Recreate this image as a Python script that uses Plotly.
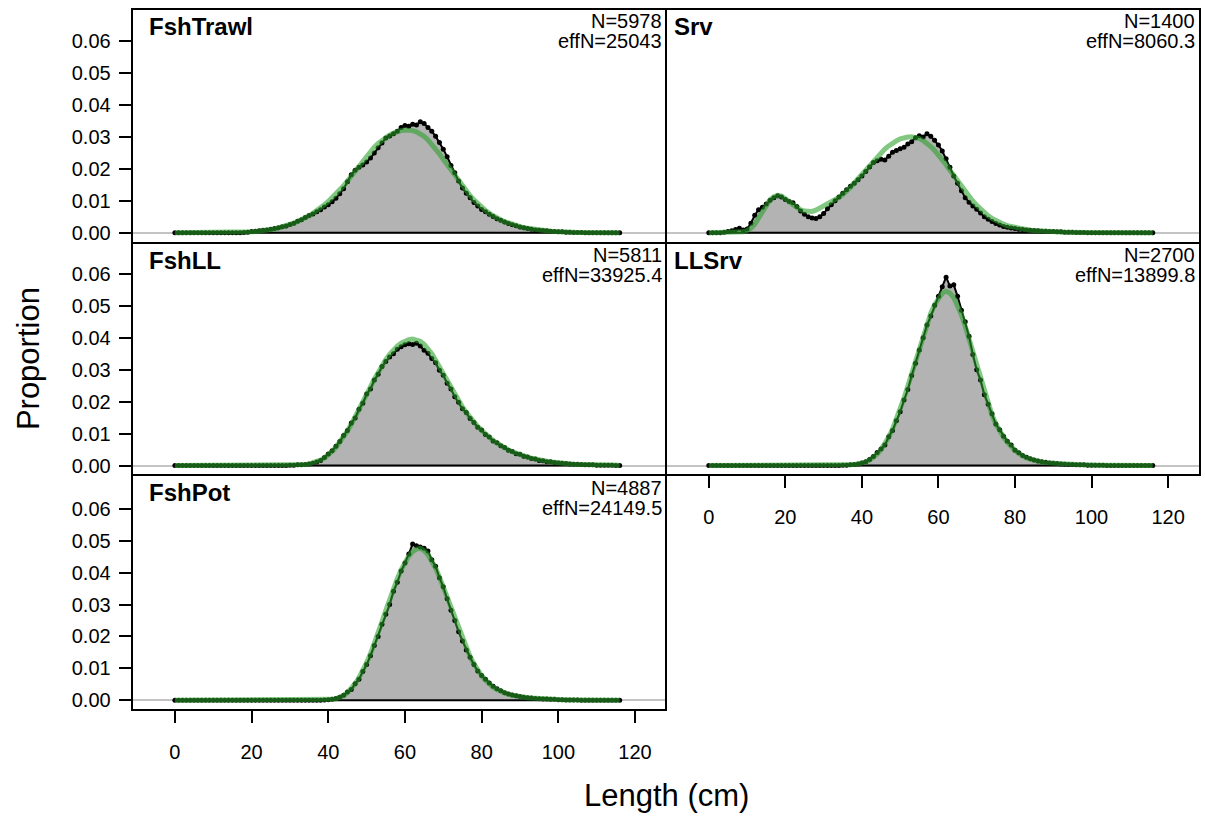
import plotly.graph_objects as go

lengths = list(range(0, 117))

fleets = ["FshTrawl", "Srv", "FshLL", "LLSrv", "FshPot"]
n_text = ["N=5978", "N=1400", "N=5811", "N=2700", "N=4887"]
effn_text = ["effN=25043", "effN=8060.3", "effN=33925.4", "effN=13899.8", "effN=24149.5"]

obs_fshtrawl = [
    0, 0, 0, 0, 0, 0, 0, 0, 0, 0,
    0, 0, 0, 0, 0, 0, 0, 0, 0.0001, 0.0002,
    0.0004, 0.0005, 0.0006, 0.0008, 0.0009, 0.0011, 0.0013, 0.0016, 0.0019, 0.0021,
    0.0026, 0.0030, 0.0036, 0.0041, 0.0048, 0.0054, 0.0059, 0.0066, 0.0072, 0.0081,
    0.0088, 0.0097, 0.0108, 0.0122, 0.0138, 0.0160, 0.0182, 0.0196, 0.0205, 0.0212,
    0.0222, 0.0234, 0.0250, 0.0266, 0.0281, 0.0297, 0.0303, 0.0310, 0.0318, 0.0330,
    0.0336, 0.0334, 0.0340, 0.0338, 0.0348, 0.0342, 0.0330, 0.0318, 0.0302, 0.0283,
    0.0262, 0.0238, 0.0211, 0.0188, 0.0162, 0.0140, 0.0124, 0.0110, 0.0095, 0.0084,
    0.0073, 0.0066, 0.0058, 0.0051, 0.0044, 0.0039, 0.0034, 0.0029, 0.0025, 0.0022,
    0.0018, 0.0016, 0.0013, 0.0011, 0.0009, 0.0008, 0.0007, 0.0006, 0.0005, 0.0004,
    0.0003, 0.0003, 0.0002, 0.0002, 0.0001, 0.0001, 0.0001, 0, 0, 0,
    0, 0, 0, 0, 0, 0, 0,
]
exp_fshtrawl = [
    0, 0, 0, 0, 0, 0, 0, 0, 0, 0,
    0, 0, 0, 0, 0, 0.0001, 0.0001, 0.0001, 0.0002, 0.0002,
    0.0003, 0.0004, 0.0005, 0.0006, 0.0008, 0.0010, 0.0012, 0.0015, 0.0018, 0.0022,
    0.0026, 0.0030, 0.0035, 0.0040, 0.0046, 0.0053, 0.0061, 0.0069, 0.0078, 0.0088,
    0.0098, 0.0109, 0.0120, 0.0133, 0.0147, 0.0162, 0.0178, 0.0194, 0.0210, 0.0226,
    0.0241, 0.0255, 0.0268, 0.0280, 0.0290, 0.0299, 0.0306, 0.0312, 0.0317, 0.0320,
    0.0322, 0.0322, 0.0320, 0.0316, 0.0310, 0.0302, 0.0291, 0.0278, 0.0263, 0.0247,
    0.0230, 0.0213, 0.0196, 0.0179, 0.0162, 0.0146, 0.0131, 0.0116, 0.0103, 0.0091,
    0.0080, 0.0070, 0.0061, 0.0053, 0.0046, 0.0040, 0.0035, 0.0030, 0.0026, 0.0022,
    0.0019, 0.0016, 0.0014, 0.0012, 0.0010, 0.0008, 0.0007, 0.0006, 0.0005, 0.0004,
    0.0003, 0.0003, 0.0002, 0.0002, 0.0001, 0.0001, 0.0001, 0.0001, 0.0001, 0.0001,
    0.0001, 0, 0, 0, 0, 0, 0,
]

obs_srv = [
    0, 0, 0, 0, 0.0002, 0.0004, 0.0006, 0.0010, 0.0014, 0.0009,
    0.0012, 0.0030, 0.0055, 0.0072, 0.0080, 0.0090, 0.0102, 0.0110, 0.0116, 0.0112,
    0.0104, 0.0098, 0.0094, 0.0082, 0.0068, 0.0058, 0.0050, 0.0046, 0.0045, 0.0050,
    0.0060, 0.0075, 0.0088, 0.0100, 0.0112, 0.0124, 0.0135, 0.0146, 0.0155, 0.0166,
    0.0178, 0.0192, 0.0206, 0.0220, 0.0226, 0.0230, 0.0228, 0.0240, 0.0252, 0.0258,
    0.0263, 0.0268, 0.0278, 0.0285, 0.0298, 0.0304, 0.0300, 0.0310, 0.0302, 0.0290,
    0.0275, 0.0256, 0.0232, 0.0205, 0.0178, 0.0155, 0.0132, 0.0110, 0.0096, 0.0084,
    0.0074, 0.0062, 0.0050, 0.0042, 0.0035, 0.0029, 0.0024, 0.0020, 0.0017, 0.0015,
    0.0013, 0.0011, 0.0010, 0.0009, 0.0008, 0.0007, 0.0006, 0.0005, 0.0005, 0.0004,
    0.0004, 0.0003, 0.0003, 0.0002, 0.0002, 0.0002, 0.0001, 0.0001, 0.0001, 0,
    0, 0, 0, 0, 0, 0, 0, 0, 0, 0,
    0, 0, 0, 0, 0, 0, 0,
]
exp_srv = [
    0, 0, 0, 0, 0, 0, 0, 0, 0.0001, 0.0003,
    0.0007, 0.0014, 0.0027, 0.0045, 0.0066, 0.0086, 0.0103, 0.0113, 0.0117, 0.0115,
    0.0108, 0.0098, 0.0088, 0.0079, 0.0072, 0.0068, 0.0066, 0.0067, 0.0071, 0.0077,
    0.0084, 0.0091, 0.0098, 0.0104, 0.0111, 0.0120, 0.0130, 0.0142, 0.0156, 0.0170,
    0.0184, 0.0198, 0.0212, 0.0226, 0.0239, 0.0251, 0.0262, 0.0272, 0.0281, 0.0288,
    0.0294, 0.0298, 0.0300, 0.0301, 0.0299, 0.0295, 0.0289, 0.0281, 0.0270, 0.0258,
    0.0244, 0.0229, 0.0213, 0.0196, 0.0179, 0.0162, 0.0145, 0.0129, 0.0113, 0.0099,
    0.0086, 0.0074, 0.0063, 0.0053, 0.0045, 0.0038, 0.0032, 0.0027, 0.0022, 0.0019,
    0.0016, 0.0013, 0.0011, 0.0009, 0.0008, 0.0007, 0.0006, 0.0005, 0.0004, 0.0004,
    0.0003, 0.0003, 0.0002, 0.0002, 0.0002, 0.0001, 0.0001, 0.0001, 0.0001, 0.0001,
    0.0001, 0, 0, 0, 0, 0, 0, 0, 0, 0,
    0, 0, 0, 0, 0, 0, 0,
]

obs_fshll = [
    0, 0, 0, 0, 0, 0, 0, 0, 0, 0,
    0, 0, 0, 0, 0, 0, 0, 0, 0, 0,
    0, 0, 0, 0, 0, 0, 0, 0, 0, 0,
    0.0001, 0.0001, 0.0002, 0.0002, 0.0003, 0.0005, 0.0007, 0.0011, 0.0016, 0.0025,
    0.0036, 0.0046, 0.0060, 0.0075, 0.0094, 0.0110, 0.0133, 0.0149, 0.0176, 0.0195,
    0.0224, 0.0240, 0.0268, 0.0286, 0.0310, 0.0326, 0.0340, 0.0350, 0.0364, 0.0372,
    0.0378, 0.0381, 0.0379, 0.0383, 0.0374, 0.0361, 0.0352, 0.0335, 0.0322, 0.0298,
    0.0283, 0.0258, 0.0240, 0.0215, 0.0198, 0.0178, 0.0166, 0.0147, 0.0135, 0.0120,
    0.0111, 0.0097, 0.0089, 0.0077, 0.0071, 0.0062, 0.0056, 0.0048, 0.0044, 0.0037,
    0.0035, 0.0029, 0.0027, 0.0022, 0.0020, 0.0016, 0.0015, 0.0012, 0.0012, 0.0009,
    0.0008, 0.0007, 0.0006, 0.0005, 0.0004, 0.0004, 0.0003, 0.0002, 0.0002, 0.0002,
    0.0001, 0.0001, 0.0001, 0.0001, 0.0001, 0, 0,
]
exp_fshll = [
    0, 0, 0, 0, 0, 0, 0, 0, 0, 0,
    0, 0, 0, 0, 0, 0, 0, 0, 0, 0,
    0, 0, 0, 0, 0, 0, 0, 0, 0, 0,
    0, 0.0001, 0.0001, 0.0002, 0.0003, 0.0005, 0.0008, 0.0012, 0.0017, 0.0024,
    0.0033, 0.0044, 0.0057, 0.0072, 0.0089, 0.0108, 0.0129, 0.0151, 0.0174, 0.0198,
    0.0222, 0.0246, 0.0270, 0.0292, 0.0313, 0.0332, 0.0348, 0.0362, 0.0374, 0.0383,
    0.0390, 0.0394, 0.0396, 0.0394, 0.0389, 0.0380, 0.0367, 0.0350, 0.0330, 0.0308,
    0.0286, 0.0264, 0.0242, 0.0221, 0.0201, 0.0183, 0.0166, 0.0150, 0.0135, 0.0122,
    0.0110, 0.0098, 0.0088, 0.0078, 0.0070, 0.0062, 0.0055, 0.0049, 0.0043, 0.0038,
    0.0034, 0.0030, 0.0026, 0.0023, 0.0020, 0.0017, 0.0015, 0.0013, 0.0011, 0.0010,
    0.0008, 0.0007, 0.0006, 0.0005, 0.0004, 0.0004, 0.0003, 0.0003, 0.0002, 0.0002,
    0.0002, 0.0001, 0.0001, 0.0001, 0.0001, 0.0001, 0.0001,
]

obs_llsrv = [
    0, 0, 0, 0, 0, 0, 0, 0, 0, 0,
    0, 0, 0, 0, 0, 0, 0, 0, 0, 0,
    0, 0, 0, 0, 0, 0, 0, 0, 0, 0,
    0, 0, 0, 0, 0, 0.0001, 0.0001, 0.0002, 0.0003, 0.0005,
    0.0008, 0.0012, 0.0019, 0.0028, 0.0041, 0.0052, 0.0064, 0.0090, 0.0110, 0.0140,
    0.0168, 0.0205, 0.0238, 0.0282, 0.0320, 0.0362, 0.0400, 0.0440, 0.0468, 0.0502,
    0.0530, 0.0560, 0.0590, 0.0562, 0.0566, 0.0530, 0.0486, 0.0450, 0.0405, 0.0348,
    0.0300, 0.0268, 0.0222, 0.0192, 0.0162, 0.0130, 0.0112, 0.0092, 0.0076, 0.0064,
    0.0048, 0.0040, 0.0031, 0.0026, 0.0021, 0.0017, 0.0014, 0.0012, 0.0010, 0.0008,
    0.0007, 0.0006, 0.0005, 0.0004, 0.0003, 0.0003, 0.0002, 0.0002, 0.0002, 0.0001,
    0.0001, 0.0001, 0.0001, 0.0001, 0, 0, 0, 0, 0, 0,
    0, 0, 0, 0, 0, 0, 0,
]
exp_llsrv = [
    0, 0, 0, 0, 0, 0, 0, 0, 0, 0,
    0, 0, 0, 0, 0, 0, 0, 0, 0, 0,
    0, 0, 0, 0, 0, 0, 0, 0, 0, 0,
    0, 0, 0, 0, 0, 0, 0.0001, 0.0002, 0.0003, 0.0005,
    0.0007, 0.0011, 0.0017, 0.0025, 0.0036, 0.0050, 0.0068, 0.0089, 0.0114, 0.0143,
    0.0176, 0.0211, 0.0249, 0.0289, 0.0330, 0.0370, 0.0409, 0.0445, 0.0477, 0.0504,
    0.0525, 0.0540, 0.0546, 0.0540, 0.0526, 0.0503, 0.0472, 0.0436, 0.0396, 0.0353,
    0.0310, 0.0268, 0.0228, 0.0191, 0.0158, 0.0130, 0.0108, 0.0089, 0.0073, 0.0059,
    0.0047, 0.0038, 0.0030, 0.0024, 0.0020, 0.0016, 0.0013, 0.0011, 0.0009, 0.0008,
    0.0006, 0.0005, 0.0004, 0.0004, 0.0003, 0.0003, 0.0002, 0.0002, 0.0002, 0.0001,
    0.0001, 0.0001, 0.0001, 0.0001, 0.0001, 0.0001, 0, 0, 0, 0,
    0, 0, 0, 0, 0, 0, 0,
]

obs_fshpot = [
    0, 0, 0, 0, 0, 0, 0, 0, 0, 0,
    0, 0, 0, 0, 0, 0, 0, 0, 0, 0,
    0, 0, 0, 0, 0, 0, 0, 0, 0, 0,
    0, 0, 0, 0, 0, 0, 0, 0, 0, 0.0001,
    0.0002, 0.0003, 0.0006, 0.0010, 0.0016, 0.0026, 0.0034, 0.0052, 0.0066, 0.0090,
    0.0112, 0.0140, 0.0172, 0.0200, 0.0238, 0.0270, 0.0300, 0.0342, 0.0370, 0.0405,
    0.0430, 0.0458, 0.0490, 0.0484, 0.0480, 0.0476, 0.0468, 0.0440, 0.0420, 0.0384,
    0.0356, 0.0318, 0.0282, 0.0250, 0.0215, 0.0186, 0.0158, 0.0135, 0.0112, 0.0092,
    0.0078, 0.0066, 0.0054, 0.0044, 0.0036, 0.0030, 0.0024, 0.0020, 0.0017, 0.0014,
    0.0012, 0.0010, 0.0008, 0.0007, 0.0006, 0.0005, 0.0004, 0.0004, 0.0003, 0.0003,
    0.0002, 0.0002, 0.0001, 0.0001, 0.0001, 0.0001, 0, 0, 0, 0,
    0, 0, 0, 0, 0, 0, 0,
]
exp_fshpot = [
    0, 0, 0, 0, 0, 0, 0, 0, 0, 0,
    0, 0, 0, 0, 0, 0, 0, 0, 0, 0,
    0, 0, 0, 0, 0, 0, 0, 0, 0, 0,
    0, 0, 0, 0, 0, 0, 0, 0, 0.0001, 0.0001,
    0.0002, 0.0003, 0.0005, 0.0009, 0.0015, 0.0024, 0.0036, 0.0052, 0.0071, 0.0093,
    0.0118, 0.0146, 0.0177, 0.0211, 0.0246, 0.0281, 0.0316, 0.0350, 0.0381, 0.0409,
    0.0433, 0.0452, 0.0466, 0.0474, 0.0476, 0.0469, 0.0456, 0.0438, 0.0414, 0.0386,
    0.0355, 0.0322, 0.0288, 0.0255, 0.0222, 0.0191, 0.0163, 0.0137, 0.0114, 0.0094,
    0.0077, 0.0063, 0.0051, 0.0041, 0.0034, 0.0028, 0.0023, 0.0019, 0.0016, 0.0013,
    0.0011, 0.0009, 0.0008, 0.0007, 0.0006, 0.0005, 0.0004, 0.0004, 0.0003, 0.0003,
    0.0002, 0.0002, 0.0002, 0.0001, 0.0001, 0.0001, 0.0001, 0.0001, 0.0001, 0,
    0, 0, 0, 0, 0, 0, 0,
]

observed = [obs_fshtrawl, obs_srv, obs_fshll, obs_llsrv, obs_fshpot]
expected = [exp_fshtrawl, exp_srv, exp_fshll, exp_llsrv, exp_fshpot]

y_tick_vals = [0, 0.01, 0.02, 0.03, 0.04, 0.05, 0.06]
y_tick_text = ["0.00", "0.01", "0.02", "0.03", "0.04", "0.05", "0.06"]
x_tick_vals = [0, 20, 40, 60, 80, 100, 120]

W, H = 1205, 819
FONT = "Liberation Sans, Arial, sans-serif"

# pixel boxes of the plot areas (adjacent boxes leave a 2px gap so that
# their 2px border lines coincide)
col_px = [(132.7, 664.7), (666.7, 1198.7)]
row_px = [(10, 242.3), (244.3, 475.6), (477.6, 711)]
# panel -> (col, row)
panel_pos = [(0, 0), (1, 0), (0, 1), (1, 1), (0, 2)]
show_x = [False, False, False, True, True]

fig = go.Figure()
layout = dict(
    width=W, height=H, autosize=False,
    margin=dict(l=0, r=0, t=0, b=0),
    paper_bgcolor="white", plot_bgcolor="white",
    showlegend=False,
    font=dict(family=FONT, size=20, color="black"),
)
annotations = []

for i, name in enumerate(fleets):
    c, r = panel_pos[i]
    ax = "" if i == 0 else str(i + 1)
    xa = "x" + ax
    ya = "y" + ax
    x0p, x1p = col_px[c]
    y0p, y1p = row_px[r]
    # keep the same px-per-unit scale in every panel
    y_lo = -0.0028 + (y1p - (row_px[r][1])) / 3200.0
    y_bottom_val = -0.0028 if r == 0 else -0.0028
    layout["xaxis" + ax] = dict(
        domain=[x0p / W, x1p / W], range=[-11, 128 - (1.0 if c == 0 else 0.0) / 3.833], anchor=ya,
        showline=True, mirror=True, linecolor="black", linewidth=2,
        showgrid=False, zeroline=False,
        tickvals=x_tick_vals,
        ticks="outside" if show_x[i] else "", ticklen=12, tickwidth=2, tickcolor="black",
        showticklabels=show_x[i], ticklabelstandoff=12,
        tickfont=dict(family=FONT, size=20, color="black"),
    )
    y_top_val = y_bottom_val + (y1p - y0p) / 3200.0
    layout["yaxis" + ax] = dict(
        domain=[1 - y1p / H, 1 - y0p / H], range=[y_bottom_val, y_top_val], anchor=xa,
        showline=True, mirror=True, linecolor="black", linewidth=2,
        showgrid=False, zeroline=True, zerolinecolor="#c4c4c4", zerolinewidth=2,
        tickvals=y_tick_vals, ticktext=y_tick_text,
        ticks="outside" if c == 0 else "", ticklen=12, tickwidth=2, tickcolor="black",
        showticklabels=(c == 0), ticklabelstandoff=4,
        tickfont=dict(family=FONT, size=20, color="black"),
    )

    # observed: grey polygon with black line and points
    fig.add_trace(go.Scatter(
        x=lengths, y=observed[i], xaxis=xa, yaxis=ya, mode="lines+markers",
        fill="tozeroy", fillcolor="#b3b3b3",
        line=dict(color="black", width=2),
        marker=dict(color="black", size=5),
        hoverinfo="skip",
    ))
    # black base of polygon
    fig.add_trace(go.Scatter(
        x=[lengths[0], lengths[-1]], y=[0, 0], xaxis=xa, yaxis=ya, mode="lines",
        line=dict(color="black", width=2), hoverinfo="skip",
    ))
    # expected: translucent green line
    fig.add_trace(go.Scatter(
        x=lengths, y=expected[i], xaxis=xa, yaxis=ya, mode="lines",
        line=dict(color="rgba(40,160,40,0.58)", width=5),
        hoverinfo="skip",
    ))

    title_x = 146.5 if c == 0 else 671.5
    right_x = (664.0 if c == 0 else 1197.0)
    base = row_px[r][0]
    annotations.append(dict(
        text="<b>" + name + "</b>", x=title_x / W, y=1 - (base + 16.5) / H,
        xref="paper", yref="paper", xanchor="left", yanchor="middle",
        showarrow=False, font=dict(family=FONT, size=24, color="black"),
    ))
    annotations.append(dict(
        text=n_text[i], x=right_x / W, y=1 - (base + 11.5) / H,
        xref="paper", yref="paper", xanchor="right", yanchor="middle",
        showarrow=False, font=dict(family=FONT, size=20, color="black"),
    ))
    annotations.append(dict(
        text=effn_text[i], x=right_x / W, y=1 - (base + 31.5) / H,
        xref="paper", yref="paper", xanchor="right", yanchor="middle",
        showarrow=False, font=dict(family=FONT, size=20, color="black"),
    ))

annotations.append(dict(
    text="Proportion", x=28 / W, y=1 - 360 / H, xref="paper", yref="paper",
    xanchor="center", yanchor="middle", textangle=-90, showarrow=False,
    font=dict(family=FONT, size=31, color="black"),
))
annotations.append(dict(
    text="Length (cm)", x=666 / W, y=1 - 797 / H, xref="paper", yref="paper",
    xanchor="center", yanchor="middle", showarrow=False,
    font=dict(family=FONT, size=31, color="black"),
))
layout["annotations"] = annotations
fig.update_layout(**layout)

fig.write_html(
    "out.html",
    config={"displayModeBar": False},
    post_script="document.body.style.margin='0';document.body.style.padding='0';document.body.style.overflow='hidden';",
)
